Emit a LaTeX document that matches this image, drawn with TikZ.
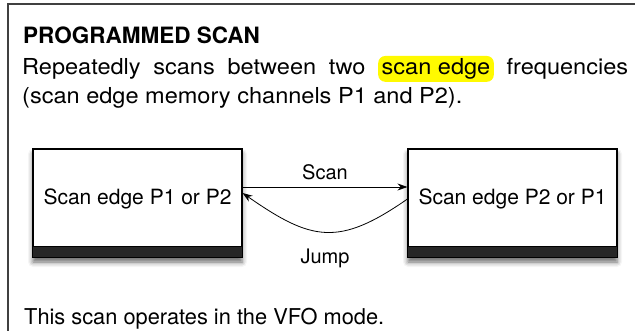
\documentclass[tikz,border=0pt]{standalone}
\usepackage{fontspec}
\setmainfont{TeX Gyre Heros}
\newfontfamily\widesans{TeX Gyre Heros}[FakeStretch=1.07]
\usetikzlibrary{arrows.meta,positioning,shadows.blur}
\definecolor{hlyellow}{HTML}{FFFA00}
\definecolor{bandgray}{HTML}{262626}
\newcommand\hlscan[1]{\tikz[baseline=(hw.base)]\node[anchor=base,fill=hlyellow,rounded corners=7pt,inner xsep=3.5pt,inner ysep=2.5pt] (hw) {#1};}

\begin{document}
\begin{tikzpicture}[x=1pt,y=-1pt,>={Stealth[length=10pt,width=7pt]},
  txt/.style={font=\widesans\fontsize{22}{26}\selectfont,inner sep=0pt,anchor=base west},
  scanbox/.style={draw,line width=1.1pt,fill=white,minimum width=209pt,minimum height=108pt,text height=15pt,text depth=11pt,font=\fontsize{21}{25}\selectfont,blur shadow={shadow xshift=0pt,shadow yshift=-5pt,shadow blur radius=5pt,shadow opacity=60}},
  lbl/.style={font=\fontsize{20}{24}\selectfont}]
\useasboundingbox (0,0) rectangle (635,331);
% frame
\draw[line width=1.3pt,black!75] (635,4) -- (8,4) -- (8,331);
% header text
\node[txt,font=\bfseries\fontsize{22.5}{27}\selectfont] (title) at (23,44) {PROGRAMMED SCAN};
\node[txt] (line1) at (22,74.5) {\hbox to 606pt{Repeatedly scans between two \hlscan{scan edge} frequencies}};
\node[txt] (line2) at (22,104) {(scan edge memory channels P1 and P2).};
% the two edges
\node[scanbox] (lbox) at (137.5,203) {Scan edge P1 or P2};
\node[scanbox] (rbox) at (512.5,203) {Scan edge P2 or P1};
\foreach \b in {lbox,rbox}
  \draw[line width=1.1pt,fill=bandgray] ([yshift=11pt]\b.south west) rectangle (\b.south east);
\draw[->,line width=0.8pt] ([yshift=16pt]lbox.east) -- node[lbl,above=3pt] (scanlbl) {Scan} ([yshift=16pt]rbox.west);
\draw[->,line width=0.8pt] ([yshift=4pt]rbox.west) .. controls +(-69,48) and +(69,48) .. node[lbl,below=13pt] (jumplbl) {Jump} ([yshift=10pt]lbox.east);
\node[txt,font=\fontsize{21.8}{26}\selectfont] (vfonote) at (24,324) {This scan operates in the VFO mode.};
\end{tikzpicture}
\end{document}
